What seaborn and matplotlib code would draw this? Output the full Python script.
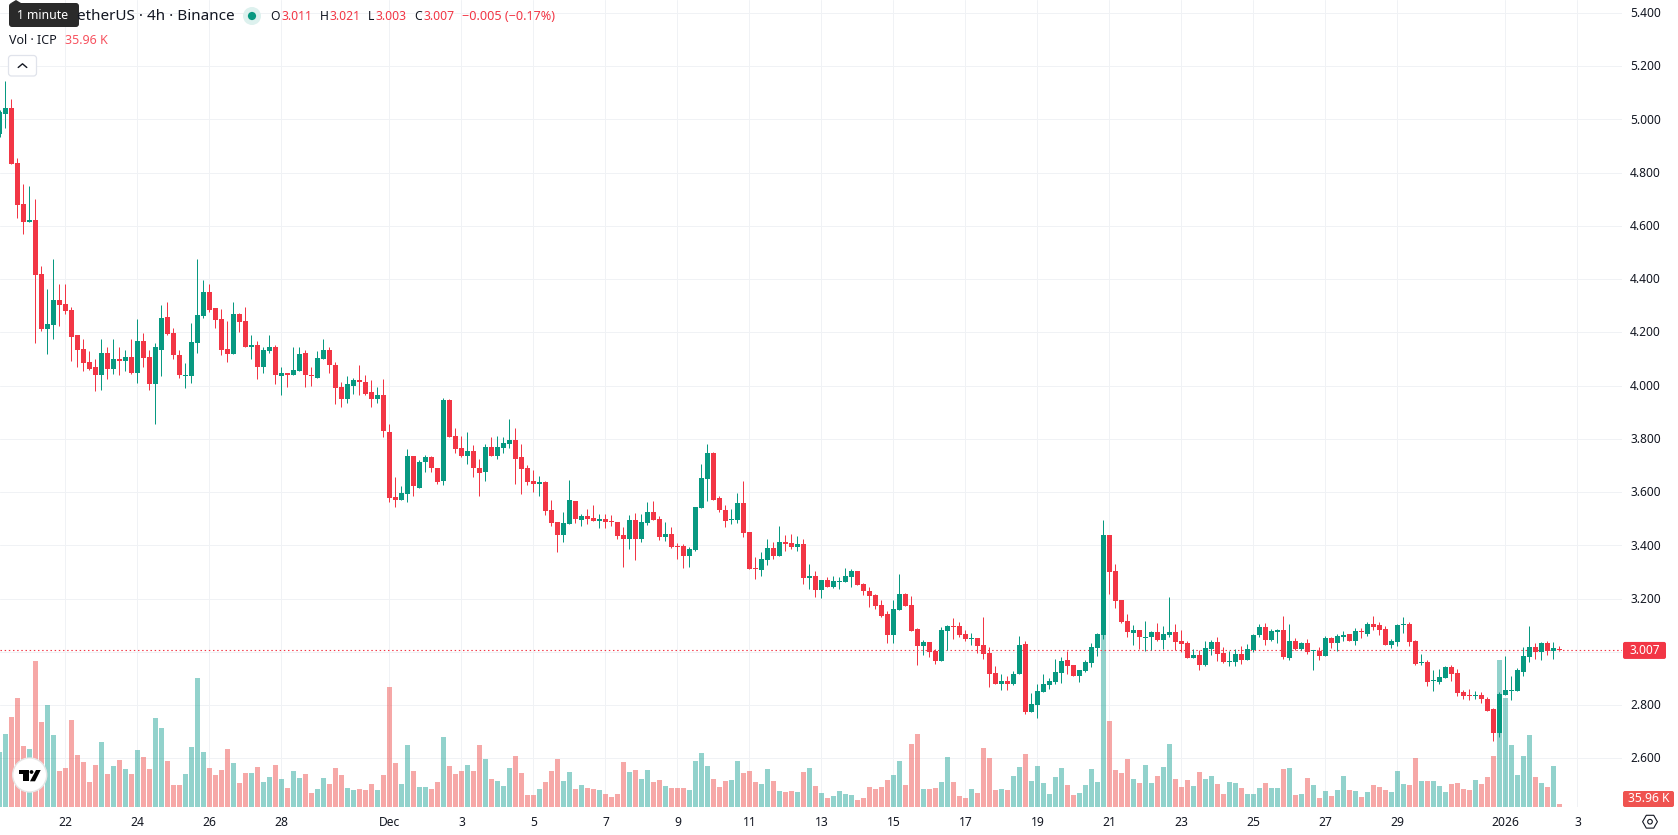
import matplotlib
matplotlib.use("Agg")
import matplotlib.pyplot as plt
from matplotlib.patches import Circle, FancyBboxPatch, Polygon, RegularPolygon
from matplotlib.transforms import ScaledTranslation
import numpy as np
import pandas as pd
import seaborn as sns

# ICP/USDT 4h candles, the first bar sits one step left of index 0
open_ = [
    4.945,5.020,5.043,4.836,4.683,4.615,4.623,4.420,4.214,4.229,
    4.323,4.308,4.285,4.188,4.139,4.090,4.068,4.038,4.124,4.064,
    4.101,4.094,4.109,4.049,4.169,4.109,4.004,4.135,4.259,4.199,
    4.116,4.034,4.034,4.161,4.263,4.353,4.293,4.251,4.139,4.120,
    4.270,4.244,4.146,4.154,4.068,4.131,4.143,4.034,4.049,4.038,
    4.053,4.124,4.041,4.030,4.101,4.135,4.079,3.993,3.948,4.000,
    4.019,4.015,3.974,3.948,3.963,3.827,3.580,3.569,3.591,3.734,
    3.617,3.711,3.730,3.692,3.640,3.947,3.809,3.764,3.734,3.756,
    3.692,3.674,3.771,3.737,3.767,3.782,3.794,3.730,3.689,3.640,
    3.632,3.636,3.531,3.486,3.437,3.479,3.565,3.494,3.509,3.501,
    3.490,3.497,3.490,3.486,3.437,3.422,3.494,3.422,3.482,3.524,
    3.497,3.430,3.441,3.396,3.396,3.359,3.381,3.539,3.648,3.745,
    3.576,3.531,3.494,3.494,3.558,3.450,3.315,3.308,3.345,3.390,
    3.360,3.413,3.409,3.394,3.405,3.278,3.285,3.233,3.270,3.244,
    3.263,3.263,3.281,3.304,3.255,3.229,3.214,3.176,3.143,3.064,
    3.158,3.218,3.176,3.086,3.023,3.038,3.004,2.966,3.079,3.098,
    3.098,3.068,3.049,3.053,3.026,2.996,2.921,2.880,2.891,2.880,
    2.918,3.030,2.775,2.801,2.850,2.876,2.888,2.921,2.970,2.951,
    2.910,2.929,2.959,3.015,3.064,3.439,3.304,3.195,3.116,3.071,
    3.083,3.053,3.056,3.075,3.045,3.064,3.075,3.041,3.034,2.978,
    2.989,2.951,3.011,3.038,2.996,2.963,2.963,2.993,2.970,3.008,
    3.064,3.094,3.045,3.075,3.083,2.978,3.041,3.011,3.034,3.004,
    3.004,2.985,3.053,3.034,3.056,3.068,3.041,3.079,3.068,3.105,
    3.101,3.086,3.026,3.038,3.101,3.105,3.041,2.959,2.963,2.891,
    2.888,2.903,2.944,2.921,2.850,2.839,2.835,2.839,2.824,2.786,
    2.696,2.839,2.854,2.854,2.925,2.981,3.019,3.000,3.034,3.004,
    3.011,
]
close = [
    5.028,5.043,4.833,4.679,4.615,4.623,4.416,4.214,4.233,4.323,
    4.304,4.281,4.184,4.135,4.083,4.064,4.038,4.124,4.064,4.101,
    4.094,4.109,4.049,4.169,4.105,4.004,4.143,4.255,4.195,4.113,
    4.038,4.038,4.165,4.266,4.353,4.285,4.248,4.135,4.120,4.270,
    4.240,4.146,4.154,4.068,4.135,4.143,4.038,4.049,4.038,4.060,
    4.120,4.041,4.034,4.105,4.135,4.079,3.989,3.948,4.004,4.019,
    4.015,3.970,3.948,3.963,3.828,3.576,3.569,3.595,3.734,3.621,
    3.711,3.730,3.689,3.636,3.947,3.805,3.760,3.734,3.756,3.689,
    3.670,3.771,3.737,3.771,3.786,3.797,3.726,3.685,3.636,3.632,
    3.636,3.528,3.482,3.437,3.482,3.569,3.497,3.509,3.497,3.490,
    3.497,3.486,3.486,3.434,3.422,3.494,3.422,3.486,3.524,3.494,
    3.430,3.441,3.392,3.392,3.359,3.385,3.542,3.651,3.745,3.572,
    3.531,3.490,3.497,3.558,3.445,3.311,3.311,3.349,3.390,3.360,
    3.413,3.405,3.394,3.405,3.278,3.285,3.233,3.270,3.244,3.266,
    3.266,3.285,3.304,3.251,3.229,3.210,3.173,3.135,3.064,3.161,
    3.218,3.173,3.079,3.023,3.038,3.000,2.966,3.083,3.098,3.094,
    3.064,3.049,3.053,3.023,2.993,2.918,2.880,2.891,2.880,2.918,
    3.026,2.775,2.805,2.854,2.880,2.891,2.925,2.966,2.948,2.910,
    2.933,2.963,3.019,3.068,3.439,3.300,3.191,3.113,3.075,3.083,
    3.056,3.056,3.075,3.045,3.068,3.075,3.038,3.030,2.978,2.989,
    2.951,3.015,3.038,2.993,2.963,2.966,2.993,2.970,3.011,3.064,
    3.094,3.045,3.079,3.083,2.981,3.041,3.011,3.034,3.000,3.008,
    2.985,3.053,3.034,3.060,3.064,3.041,3.079,3.075,3.105,3.094,
    3.083,3.026,3.041,3.101,3.105,3.038,2.955,2.963,2.888,2.895,
    2.906,2.944,2.918,2.846,2.835,2.835,2.839,2.824,2.779,2.696,
    2.843,2.858,2.858,2.933,2.985,3.019,3.000,3.034,3.004,3.015,
    3.007,
]
high = [
    5.035,5.144,5.076,4.855,4.758,4.750,4.701,4.450,4.364,4.476,
    4.383,4.383,4.296,4.191,4.176,4.128,4.098,4.176,4.143,4.173,
    4.146,4.135,4.176,4.251,4.199,4.135,4.158,4.304,4.315,4.218,
    4.135,4.083,4.236,4.476,4.398,4.383,4.293,4.289,4.244,4.315,
    4.274,4.296,4.188,4.169,4.146,4.191,4.154,4.068,4.049,4.143,
    4.143,4.135,4.068,4.128,4.173,4.143,4.090,4.015,4.034,4.030,
    4.079,4.038,4.019,3.996,4.023,3.854,3.655,3.621,3.760,3.737,
    3.719,3.741,3.734,3.692,3.955,3.951,3.839,3.809,3.827,3.775,
    3.723,3.782,3.805,3.809,3.805,3.876,3.839,3.782,3.700,3.681,
    3.659,3.640,3.569,3.486,3.524,3.644,3.565,3.516,3.535,3.550,
    3.516,3.516,3.512,3.486,3.467,3.512,3.520,3.516,3.561,3.565,
    3.509,3.486,3.467,3.408,3.404,3.392,3.542,3.704,3.779,3.752,
    3.587,3.550,3.535,3.595,3.640,3.450,3.356,3.375,3.424,3.413,
    3.473,3.439,3.443,3.435,3.424,3.330,3.304,3.270,3.281,3.285,
    3.281,3.315,3.311,3.304,3.259,3.244,3.218,3.195,3.154,3.195,
    3.293,3.221,3.210,3.090,3.045,3.038,3.011,3.094,3.101,3.128,
    3.113,3.083,3.071,3.053,3.131,3.019,2.948,2.918,2.910,2.929,
    3.060,3.041,2.846,2.880,2.918,2.903,2.974,2.981,3.004,2.951,
    2.933,2.970,3.034,3.071,3.495,3.439,3.330,3.195,3.143,3.101,
    3.083,3.116,3.079,3.109,3.098,3.206,3.105,3.083,3.041,3.011,
    3.008,3.041,3.045,3.056,3.019,3.004,3.011,3.023,3.030,3.068,
    3.105,3.109,3.086,3.086,3.135,3.105,3.053,3.038,3.049,3.008,
    3.019,3.060,3.056,3.068,3.079,3.068,3.090,3.090,3.113,3.135,
    3.113,3.098,3.049,3.105,3.131,3.113,3.045,2.993,2.970,2.933,
    2.936,2.948,2.951,2.936,2.858,2.861,2.854,2.850,2.831,2.790,
    2.850,2.985,2.910,2.940,3.019,3.098,3.034,3.038,3.041,3.038,
    3.021,
]
low = [
    4.935,4.968,4.833,4.630,4.570,4.615,4.161,4.206,4.120,4.176,
    4.225,4.270,4.094,4.071,4.056,4.060,3.981,3.985,4.023,4.045,
    4.041,4.053,4.045,4.008,4.071,3.985,3.854,4.034,4.188,4.098,
    4.030,3.989,4.011,4.124,4.255,4.278,4.218,4.116,4.090,4.120,
    4.203,4.146,4.098,4.026,4.049,4.124,4.004,3.966,3.996,4.038,
    4.053,3.996,4.000,4.030,4.098,4.049,3.929,3.921,3.933,3.970,
    3.966,3.966,3.921,3.936,3.805,3.561,3.542,3.569,3.561,3.587,
    3.617,3.677,3.674,3.629,3.625,3.805,3.745,3.730,3.704,3.655,
    3.587,3.640,3.734,3.726,3.745,3.767,3.632,3.591,3.625,3.599,
    3.584,3.512,3.471,3.374,3.411,3.479,3.482,3.471,3.479,3.490,
    3.464,3.464,3.471,3.422,3.317,3.385,3.344,3.411,3.475,3.494,
    3.419,3.415,3.389,3.347,3.314,3.317,3.377,3.539,3.565,3.569,
    3.524,3.467,3.479,3.482,3.430,3.311,3.274,3.285,3.326,3.349,
    3.360,3.379,3.386,3.379,3.255,3.236,3.206,3.203,3.244,3.240,
    3.236,3.263,3.244,3.251,3.214,3.169,3.161,3.131,3.034,3.034,
    3.158,3.173,3.079,2.951,2.989,2.981,2.955,2.966,3.008,3.049,
    3.056,3.041,3.026,2.996,2.974,2.869,2.880,2.858,2.858,2.876,
    2.918,2.768,2.775,2.753,2.850,2.861,2.880,2.884,2.918,2.910,
    2.888,2.925,2.944,2.985,3.049,3.218,3.165,3.109,3.056,3.026,
    3.011,3.004,3.008,3.041,3.011,3.056,3.008,3.000,2.978,2.978,
    2.933,2.948,2.989,2.966,2.959,2.948,2.948,2.955,2.970,3.000,
    3.056,3.026,3.041,3.034,2.974,2.970,3.008,3.008,2.993,2.933,
    2.970,2.985,3.015,3.004,3.041,3.041,3.026,3.053,3.060,3.083,
    3.064,3.026,3.015,3.023,3.071,3.023,2.951,2.951,2.873,2.854,
    2.880,2.903,2.891,2.835,2.824,2.820,2.824,2.809,2.779,2.666,
    2.681,2.839,2.820,2.854,2.910,2.963,2.974,2.970,2.989,2.974,
    3.003,
]
# traded volume per bar, in thousands of ICP
volume_k = [
    656,872,1076,1304,728,692,1748,1016,1220,860,
    428,464,1040,620,536,296,500,776,392,488,
    560,452,392,680,596,452,1064,944,548,260,
    260,392,716,1544,656,464,380,440,692,524,
    284,404,404,476,296,356,500,332,224,428,
    344,392,164,212,344,272,464,380,224,200,
    212,200,272,200,380,1436,524,272,740,428,
    236,240,216,300,840,492,396,432,504,432,
    744,576,336,312,252,468,612,408,144,144,
    216,300,432,576,312,420,216,264,228,216,
    204,156,120,156,540,420,444,336,444,300,
    324,252,228,228,228,204,552,648,492,336,
    240,312,324,552,408,432,300,276,456,312,
    192,180,192,180,420,468,252,168,104,128,
    188,152,140,80,104,236,212,236,320,380,
    548,260,752,872,212,212,224,296,596,296,
    128,104,212,164,704,584,200,212,200,368,
    476,632,308,488,284,152,356,464,260,140,
    164,260,452,296,2400,1028,440,404,572,332,
    284,500,284,368,476,752,332,236,320,248,
    416,332,368,272,152,296,284,224,152,156,
    228,288,228,228,456,468,144,156,348,264,
    108,192,132,204,372,204,192,120,180,264,
    240,204,180,432,276,264,588,312,312,312,
    252,180,276,288,216,204,324,276,360,612,
    1764,1308,744,384,612,864,360,288,240,492,
    35.96,
]
# date ticks, given as the bar index each day starts on
day_ticks = [10, 22, 34, 46, 64, 76, 88, 100, 112, 124, 136, 148, 160, 172, 184, 196, 208, 220, 232, 250, 262]
day_labels = ["22", "24", "26", "28", "Dec", "3", "5", "7", "9", "11", "13", "15", "17", "19",
              "21", "23", "25", "27", "29", "2026", "3"]
price_ticks = [2.6, 2.8, 3.0, 3.2, 3.4, 3.6, 3.8, 4.0, 4.2, 4.4, 4.6, 4.8, 5.0, 5.2, 5.4]

UP = "#089981"
DOWN = "#F23645"
VOL_UP = "#26A69A"
VOL_DOWN = "#EF5350"
GRID = "#F0F2F5"
INK = "#131722"
W, H = 1678, 835
PLOT_W, PLOT_H = 1622, 807

sns.set_theme(style="white")
plt.rcParams["font.family"] = ["Noto Sans", "DejaVu Sans"]

bars = pd.DataFrame({"open": open_, "high": high, "low": low, "close": close, "volume": volume_k})
bars["bar"] = np.arange(len(bars)) - 1
bars["side"] = np.where(bars["close"] >= bars["open"], "up", "down")

fig = plt.figure(figsize=(W / 100, H / 100), dpi=100, facecolor="white")
rect = [0, 1 - PLOT_H / H, PLOT_W / W, PLOT_H / H]
xlim = (-5.5 / 6, (PLOT_W - 5.5) / 6)
ylim = (5.0 - (PLOT_H - 119.3) / 266.25, 5.0 + 119.3 / 266.25)

# lowest layer carries the grid and the axis labels; 3.000 sits under the last-price tag
ax_grid = fig.add_axes(rect, zorder=1)
ax_grid.set_xlim(xlim)
ax_grid.set_ylim(ylim)
ax_grid.yaxis.tick_right()
ax_grid.set_yticks(price_ticks, ["" if p == 3.0 else f"{p:.3f}" for p in price_ticks])
ax_grid.set_xticks(day_ticks, day_labels)
ax_grid.tick_params(axis="y", length=0, pad=5.8, labelsize=8.6, colors=INK)
ax_grid.tick_params(axis="x", length=0, pad=6.5, labelsize=8.7, colors=INK)
raise_label = ScaledTranslation(0, 0.8 / 100, fig.dpi_scale_trans)
for tick_label in ax_grid.get_yticklabels():
    tick_label.set_transform(tick_label.get_transform() + raise_label)
for tick_label in ax_grid.get_xticklabels():
    if tick_label.get_text() == "2026":
        tick_label.set_fontweight("bold")
ax_grid.grid(True, color=GRID, linewidth=0.72)
ax_grid.set_axisbelow(True)
sns.despine(ax=ax_grid, left=True, right=True, top=True, bottom=True)

# volume histogram, 12 thousand per pixel above the baseline
ax_vol = fig.add_axes(rect, zorder=2, facecolor="none")
sns.barplot(data=bars, x="bar", y="volume", hue="side", palette={"up": VOL_UP, "down": VOL_DOWN},
            native_scale=True, dodge=False, width=5 / 6, saturation=1, alpha=0.5, linewidth=0,
            legend=False, ax=ax_vol)
ax_vol.set_xlim(xlim)
ax_vol.set_ylim(0, 12 * PLOT_H)
ax_vol.axis("off")

# candlesticks and the last-price line on top
ax = fig.add_axes(rect, zorder=3, facecolor="none")
ax.set_xlim(xlim)
ax.set_ylim(ylim)
ax.axis("off")
ax.axhline(close[-1], color=DOWN, linewidth=0.8, linestyle=(0, (1.3, 2.45)), zorder=1)
colors = [UP if s == "up" else DOWN for s in bars["side"]]
ax.vlines(bars["bar"], bars["low"], bars["high"], colors=colors, linewidth=0.72, zorder=2)
tops = bars[["open", "close"]].max(axis=1)
bottoms = bars[["open", "close"]].min(axis=1)
ax.bar(bars["bar"], tops - bottoms, bottom=bottoms, width=5 / 6, color=colors, linewidth=0, zorder=3)

# header, tags and small widgets in figure pixels
ov = fig.add_axes([0, 0, 1, 1], zorder=4, facecolor="none")
ov.set_xlim(0, W)
ov.set_ylim(H, 0)
ov.axis("off")


def label(x, y, text, color=INK, size=9.0, **kw):
    ov.text(x, y, text, color=color, fontsize=size, va="center", **kw)


label(77, 16, "etherUS · 4h · Binance", size=11.0)
ov.add_patch(FancyBboxPatch((9, 3), 70, 24, boxstyle="round,pad=0,rounding_size=3",
                            facecolor="#2A2A2A", edgecolor="none"))
ov.add_patch(Polygon([(11, 3), (16, 0), (21, 3)], closed=True, facecolor="#2A2A2A", edgecolor="none"))
label(43, 15.5, "1 minute", color="white", size=8.8, ha="center")
ov.add_patch(Circle((252, 16), 9, facecolor="#DDF1EE", edgecolor="none"))
ov.add_patch(Circle((252, 16), 4.1, facecolor=UP, edgecolor="none"))
for x, text, color in [(270, "O", INK), (281, "3.011", DOWN), (319.5, "H", INK), (330, "3.021", DOWN),
                       (368, "L", INK), (376, "3.003", DOWN), (414, "C", INK), (424, "3.007", DOWN)]:
    label(x, 16, text, color=color, size=8.8)
label(462.5, 16, "−0.005 (−0.17%)", color=DOWN, size=9.1)
label(9, 40.7, "Vol · ICP", size=9.0)
label(65, 40.7, "35.96 K", color="#F7525F", size=9.0)
ov.add_patch(FancyBboxPatch((8.5, 55.5), 28, 20.5, boxstyle="round,pad=0,rounding_size=3",
                            facecolor="white", edgecolor="#E0E3EB", linewidth=0.9))
ov.plot([18.2, 22.5, 26.8], [67.5, 63.8, 67.5], color=INK, linewidth=1.0)

tag_y = H - ax.transData.transform((0, close[-1]))[1]
ov.add_patch(FancyBboxPatch((1623, tag_y - 8), 43, 17, boxstyle="round,pad=0,rounding_size=2",
                            facecolor=DOWN, edgecolor="none"))
label(1645, tag_y + 0.2, f"{close[-1]:.3f}", color="white", size=8.6, ha="center")
ov.add_patch(FancyBboxPatch((1623, 791), 51, 16, boxstyle="round,pad=0,rounding_size=2",
                            facecolor=VOL_DOWN, edgecolor="none"))
label(1648.5, 798.7, "35.96 K", color="white", size=8.7, ha="center")

# settings cog below the price scale
ov.add_patch(RegularPolygon((1650, 821.7), 6, radius=7.4, orientation=np.pi / 2, facecolor="none",
                            edgecolor=INK, linewidth=0.8))
ov.add_patch(Circle((1650, 821.7), 2.3, facecolor="none", edgecolor=INK, linewidth=0.8))

# round brand badge at the lower left
ov.add_patch(Circle((29.7, 775), 17, facecolor="white", edgecolor="#E6E6E6", linewidth=1.0))
ov.add_patch(Polygon([(19, 770), (29.3, 770), (29.3, 781.3), (23.3, 781.3), (23.3, 773.7), (19, 773.7)],
                     closed=True, facecolor="black", edgecolor="none"))
ov.add_patch(Circle((31.5, 772), 1.9, facecolor="black", edgecolor="none"))
ov.add_patch(Polygon([(36, 770), (40.7, 770), (35, 781.3), (30, 781.3)], closed=True,
                     facecolor="black", edgecolor="none"))

fig.savefig("out.png", dpi=100, facecolor="white")
